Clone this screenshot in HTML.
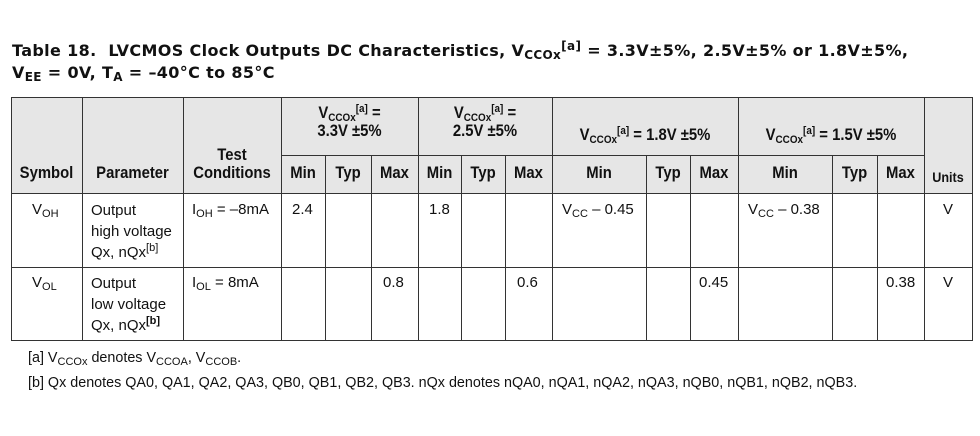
<!DOCTYPE html>
<html><head><meta charset="utf-8"><style>
body{margin:0;background:#fff;width:980px;height:436px;position:relative;overflow:hidden;font-family:"Liberation Sans",Arial,sans-serif;color:#111}
.t{position:absolute;white-space:nowrap}
.title{font-family:"DejaVu Sans",sans-serif;font-weight:bold;font-size:16px;letter-spacing:0.35px;left:12px}
.title sub{font-size:12px;vertical-align:-3px}
.title sup{font-size:12px;vertical-align:6px}
.h{position:absolute;font-weight:bold;font-size:16.5px;text-align:center;transform:scaleX(.9);line-height:18px}
.c{position:absolute;font-size:15px;line-height:19px;transform-origin:left top}
sub{font-size:11px;vertical-align:-3px;line-height:0}
sup{font-size:11px;vertical-align:6px;line-height:0}
.vl{position:absolute;width:1px;background:#333}
.hl{position:absolute;height:1px;background:#333}
</style></head><body>
<div class="t title" style="top:41px">Table 18.&nbsp; LVCMOS Clock Outputs DC Characteristics, V<sub>CCOx</sub><sup>[a]</sup> = 3.3V±5%, 2.5V±5% or 1.8V±5%,</div>
<div class="t title" style="top:63px">V<sub>EE</sub> = 0V, T<sub>A</sub> = –40°C to 85°C</div>

<div style="position:absolute;left:11px;top:97px;width:961px;height:96px;background:#e6e6e6"></div>
<div class="hl" style="left:11px;top:97px;width:962px"></div>
<div class="hl" style="left:281px;top:155px;width:643px"></div>
<div class="hl" style="left:11px;top:193px;width:962px"></div>
<div class="hl" style="left:11px;top:267px;width:962px"></div>
<div class="hl" style="left:11px;top:340px;width:962px"></div>
<div class="vl" style="left:11px;top:97px;height:244px"></div>
<div class="vl" style="left:82px;top:97px;height:244px"></div>
<div class="vl" style="left:183px;top:97px;height:244px"></div>
<div class="vl" style="left:281px;top:97px;height:244px"></div>
<div class="vl" style="left:325px;top:155px;height:186px"></div>
<div class="vl" style="left:371px;top:155px;height:186px"></div>
<div class="vl" style="left:418px;top:97px;height:244px"></div>
<div class="vl" style="left:461px;top:155px;height:186px"></div>
<div class="vl" style="left:505px;top:155px;height:186px"></div>
<div class="vl" style="left:552px;top:97px;height:244px"></div>
<div class="vl" style="left:646px;top:155px;height:186px"></div>
<div class="vl" style="left:690px;top:155px;height:186px"></div>
<div class="vl" style="left:738px;top:97px;height:244px"></div>
<div class="vl" style="left:832px;top:155px;height:186px"></div>
<div class="vl" style="left:877px;top:155px;height:186px"></div>
<div class="vl" style="left:924px;top:97px;height:244px"></div>
<div class="vl" style="left:972px;top:97px;height:244px"></div>

<div class="h" style="left:11px;width:71px;top:164px">Symbol</div>
<div class="h" style="left:82px;width:101px;top:164px">Parameter</div>
<div class="h" style="left:183px;width:98px;top:146px">Test<br>Conditions</div>
<div class="h" style="left:281px;width:137px;top:104px">V<sub>CCOx</sub><sup>[a]</sup> =<br>3.3V ±5%</div>
<div class="h" style="left:418px;width:134px;top:104px">V<sub>CCOx</sub><sup>[a]</sup> =<br>2.5V ±5%</div>
<div class="h" style="left:552px;width:186px;top:126px">V<sub>CCOx</sub><sup>[a]</sup> = 1.8V ±5%</div>
<div class="h" style="left:738px;width:186px;top:126px">V<sub>CCOx</sub><sup>[a]</sup> = 1.5V ±5%</div>
<div class="h" style="left:281px;width:44px;top:164px">Min</div>
<div class="h" style="left:325px;width:46px;top:164px">Typ</div>
<div class="h" style="left:371px;width:47px;top:164px">Max</div>
<div class="h" style="left:418px;width:43px;top:164px">Min</div>
<div class="h" style="left:461px;width:44px;top:164px">Typ</div>
<div class="h" style="left:505px;width:47px;top:164px">Max</div>
<div class="h" style="left:552px;width:94px;top:164px">Min</div>
<div class="h" style="left:646px;width:44px;top:164px">Typ</div>
<div class="h" style="left:690px;width:48px;top:164px">Max</div>
<div class="h" style="left:738px;width:94px;top:164px">Min</div>
<div class="h" style="left:832px;width:45px;top:164px">Typ</div>
<div class="h" style="left:877px;width:47px;top:164px">Max</div>
<div class="h" style="left:924px;width:48px;top:168px;font-size:14px">Units</div>

<div class="c" style="left:32px;top:200px">V<sub>OH</sub></div>
<div class="c" style="left:91px;top:200px;line-height:21px">Output<br>high voltage<br>Qx, nQx<sup>[b]</sup></div>
<div class="c" style="left:192px;top:200px">I<sub>OH</sub> = –8mA</div>
<div class="c" style="left:292px;top:200px">2.4</div>
<div class="c" style="left:429px;top:200px">1.8</div>
<div class="c" style="left:562px;top:200px">V<sub>CC</sub> – 0.45</div>
<div class="c" style="left:748px;top:200px">V<sub>CC</sub> – 0.38</div>
<div class="c" style="left:943px;top:200px">V</div>
<div class="c" style="left:32px;top:273px">V<sub>OL</sub></div>
<div class="c" style="left:91px;top:273px;line-height:21px">Output<br>low voltage<br>Qx, nQx<sup><b>[b]</b></sup></div>
<div class="c" style="left:192px;top:273px">I<sub>OL</sub> = 8mA</div>
<div class="c" style="left:383px;top:273px">0.8</div>
<div class="c" style="left:517px;top:273px">0.6</div>
<div class="c" style="left:699px;top:273px">0.45</div>
<div class="c" style="left:886px;top:273px">0.38</div>
<div class="c" style="left:943px;top:273px">V</div>

<div class="c" style="left:28px;top:349px;font-size:14.35px">[a] V<sub>CCOx</sub> denotes V<sub>CCOA</sub>, V<sub>CCOB</sub>.</div>
<div class="c" style="left:28px;top:374px;font-size:14.35px">[b] Qx denotes QA0, QA1, QA2, QA3, QB0, QB1, QB2, QB3. nQx denotes nQA0, nQA1, nQA2, nQA3, nQB0, nQB1, nQB2, nQB3.</div>
</body></html>
